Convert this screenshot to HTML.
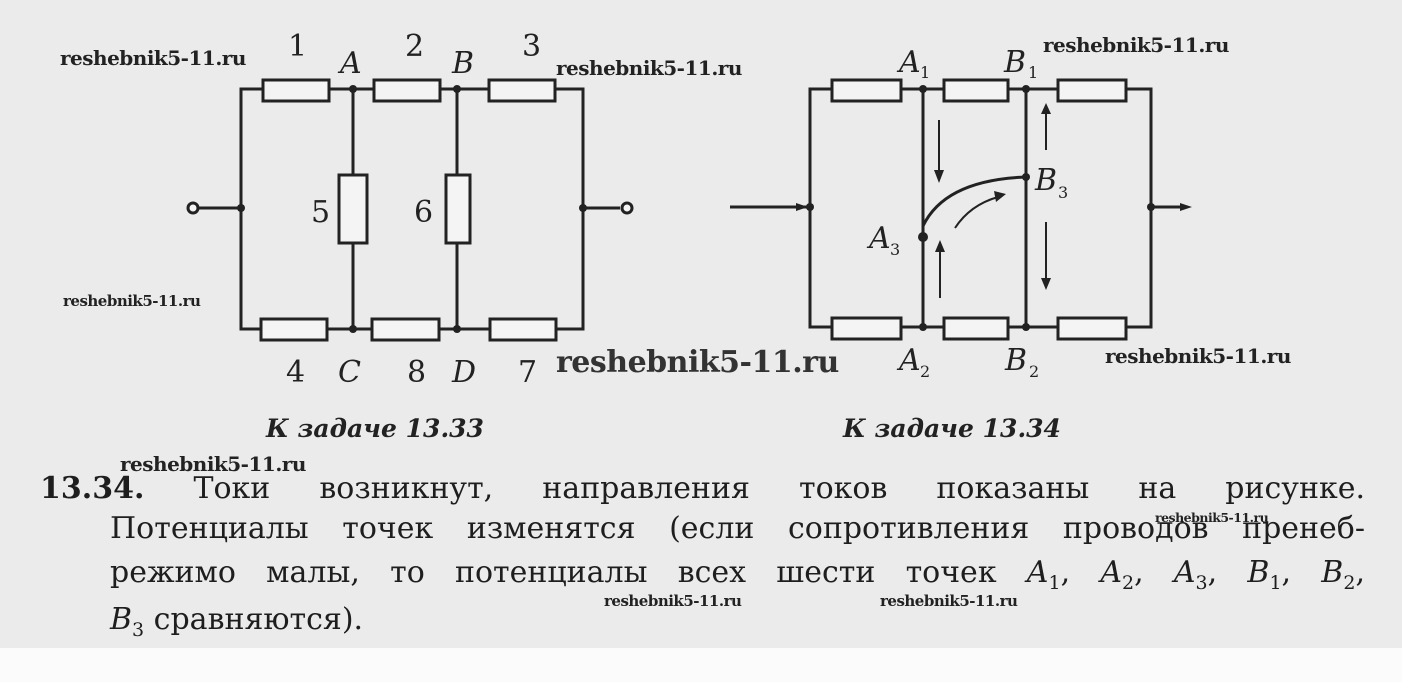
<!DOCTYPE html>
<html><head><meta charset="utf-8"><style>
html,body{margin:0;padding:0;background:#ebebeb;}
body{width:1402px;height:682px;position:relative;overflow:hidden;font-family:"DejaVu Serif","Liberation Serif",serif;color:#222;}
.bot{position:absolute;left:0;top:648px;width:1402px;height:34px;background:#fbfbfb;}
.wm{position:absolute;font-family:"DejaVu Serif",serif;font-weight:bold;color:#222;white-space:nowrap;letter-spacing:-0.5px;}
.ln{position:absolute;left:40px;font-size:30px;white-space:nowrap;line-height:34px;color:#1e1e1e;}
.cap{position:absolute;font-style:italic;font-weight:bold;font-size:25px;}
sub{font-size:19px;line-height:0;}
</style></head><body>
<div class="bot"></div>
<svg width="1402" height="682" style="position:absolute;left:0;top:0" font-family="DejaVu Serif, serif" fill="none" stroke="#222" stroke-width="3">
<path d="M263 89H241V329H261M327 329H372M439 329H490M556 329H583V89H555M489 89H440M374 89H329"/>
<path d="M353 89V175M353 243V329M457 89V175M457 243V329M199 208H241M583 208H620"/>
<rect x="263" y="80" width="66" height="21" fill="#f4f4f4"/>
<rect x="374" y="80" width="66" height="21" fill="#f4f4f4"/>
<rect x="489" y="80" width="66" height="21" fill="#f4f4f4"/>
<rect x="261" y="319" width="66" height="21" fill="#f4f4f4"/>
<rect x="372" y="319" width="67" height="21" fill="#f4f4f4"/>
<rect x="490" y="319" width="66" height="21" fill="#f4f4f4"/>
<rect x="339" y="175" width="28" height="68" fill="#f4f4f4"/>
<rect x="446" y="175" width="24" height="68" fill="#f4f4f4"/>
<circle cx="193" cy="208" r="5" fill="#f4f4f4"/>
<circle cx="627" cy="208" r="5" fill="#f4f4f4"/>
<g fill="#222" stroke="none">
<circle cx="353" cy="89" r="4"/><circle cx="457" cy="89" r="4"/><circle cx="353" cy="329" r="4"/><circle cx="457" cy="329" r="4"/><circle cx="241" cy="208" r="4"/><circle cx="583" cy="208" r="4"/>
<g font-size="30"><text x="288" y="56">1</text><text x="405" y="56">2</text><text x="522" y="56">3</text>
<text x="311" y="222">5</text><text x="414" y="222">6</text>
<text x="286" y="382">4</text><text x="407" y="382">8</text><text x="518" y="382">7</text></g>
<g font-size="30" font-style="italic"><text x="340" y="73">A</text><text x="452" y="73">B</text><text x="338" y="382">C</text><text x="452" y="382">D</text></g>
</g>
<path d="M832 89H810V327H832M901 327H944M1008 327H1058M1126 327H1151V89H1126M1058 89H1008M944 89H901"/>
<path d="M923 89V327M1026 89V327M730 207H810M1151 207H1185"/>
<path d="M923 226Q945 180 1026 177" />
<rect x="832" y="80" width="69" height="21" fill="#f4f4f4"/>
<rect x="944" y="80" width="64" height="21" fill="#f4f4f4"/>
<rect x="1058" y="80" width="68" height="21" fill="#f4f4f4"/>
<rect x="832" y="318" width="69" height="21" fill="#f4f4f4"/>
<rect x="944" y="318" width="64" height="21" fill="#f4f4f4"/>
<rect x="1058" y="318" width="68" height="21" fill="#f4f4f4"/>
<g stroke-width="2"><path d="M939 120V172M940 298V250M1046 150V112M1046 222V280M955 228Q970 205 998 197"/></g>
<g fill="#222" stroke="none">
<path d="M934 170L939 183L944 170Z"/><path d="M935 252L940 240L945 252Z"/><path d="M1041 114L1046 103L1051 114Z"/><path d="M1041 278L1046 290L1051 278Z"/><path d="M994 191L1006 194L996 202Z"/>
<path d="M796 203L808 207L796 211Z"/><path d="M1180 203L1192 207L1180 211Z"/>
<circle cx="923" cy="89" r="4"/><circle cx="1026" cy="89" r="4"/><circle cx="923" cy="327" r="4"/><circle cx="1026" cy="327" r="4"/><circle cx="923" cy="237" r="5"/><circle cx="1026" cy="177" r="4"/><circle cx="810" cy="207" r="4"/><circle cx="1151" cy="207" r="4"/>
<g font-size="30" font-style="italic"><text x="899" y="72">A</text><text x="1004" y="72">B</text><text x="869" y="248">A</text><text x="1035" y="190">B</text><text x="899" y="370">A</text><text x="1005" y="370">B</text></g>
<g font-size="16"><text x="920" y="78">1</text><text x="1028" y="78">1</text><text x="890" y="255">3</text><text x="1058" y="198">3</text><text x="920" y="377">2</text><text x="1029" y="377">2</text></g>
</g>
</svg>
<div class="cap" style="left:266px;top:414px">К задаче 13.33</div>
<div class="cap" style="left:843px;top:414px">К задаче 13.34</div>
<div class="ln" style="top:472px;width:1325px;text-align:justify;text-align-last:justify"><b>13.34.</b> Токи возникнут, направления токов показаны на рисунке.</div>
<div class="ln" style="left:110px;top:512px;width:1255px;text-align:justify;text-align-last:justify">Потенциалы точек изменятся (если сопротивления проводов пренеб-</div>
<div class="ln" style="left:110px;top:556px;width:1255px;text-align:justify;text-align-last:justify">режимо малы, то потенциалы всех шести точек <i>A</i><sub>1</sub>, <i>A</i><sub>2</sub>, <i>A</i><sub>3</sub>, <i>B</i><sub>1</sub>, <i>B</i><sub>2</sub>,</div>
<div class="ln" style="left:110px;top:603px"><i>B</i><sub>3</sub> сравняются).</div>
<div class="wm" style="left:60px;top:46px;font-size:20px">reshebnik5-11.ru</div>
<div class="wm" style="left:556px;top:56px;font-size:20px">reshebnik5-11.ru</div>
<div class="wm" style="left:1043px;top:33px;font-size:20px">reshebnik5-11.ru</div>
<div class="wm" style="left:63px;top:292px;font-size:15px">reshebnik5-11.ru</div>
<div class="wm" style="left:556px;top:345px;font-size:30px;color:#333">reshebnik5-11.ru</div>
<div class="wm" style="left:1105px;top:344px;font-size:20px">reshebnik5-11.ru</div>
<div class="wm" style="left:120px;top:452px;font-size:20px">reshebnik5-11.ru</div>
<div class="wm" style="left:1155px;top:510px;font-size:12.5px">reshebnik5-11.ru</div>
<div class="wm" style="left:604px;top:592px;font-size:15px">reshebnik5-11.ru</div>
<div class="wm" style="left:880px;top:592px;font-size:15px">reshebnik5-11.ru</div>
</body></html>
